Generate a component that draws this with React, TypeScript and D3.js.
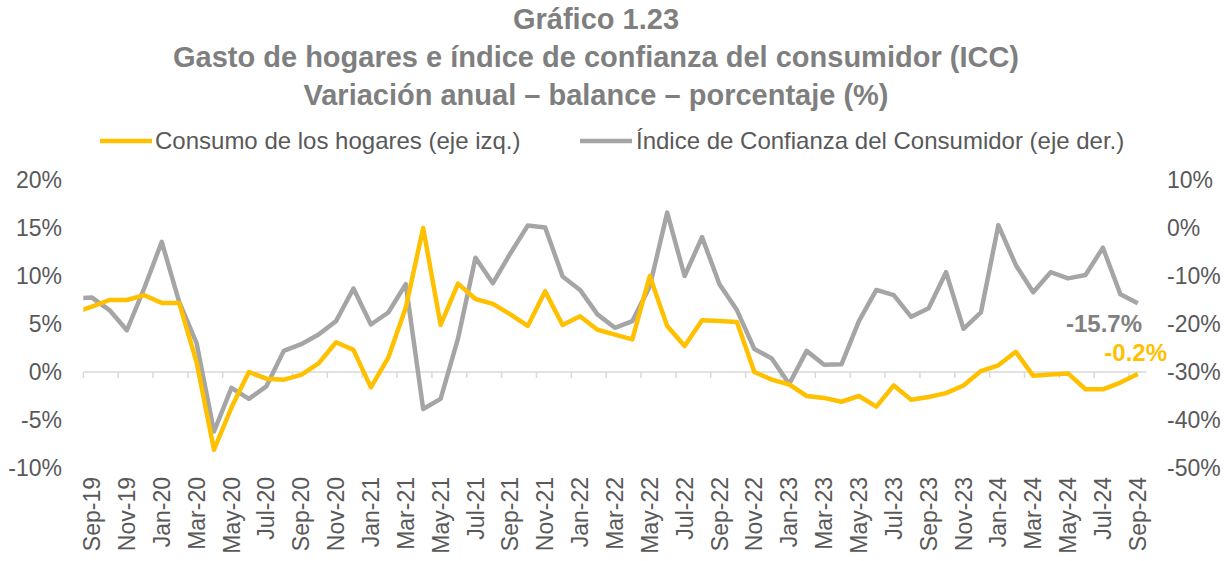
import React from 'react';
import * as d3 from 'd3';

const months = [
  'Sep-19', 'Oct-19', 'Nov-19', 'Dec-19', 'Jan-20', 'Feb-20', 'Mar-20', 'Apr-20', 'May-20', 'Jun-20',
  'Jul-20', 'Aug-20', 'Sep-20', 'Oct-20', 'Nov-20', 'Dec-20', 'Jan-21', 'Feb-21', 'Mar-21', 'Apr-21',
  'May-21', 'Jun-21', 'Jul-21', 'Aug-21', 'Sep-21', 'Oct-21', 'Nov-21', 'Dec-21', 'Jan-22', 'Feb-22',
  'Mar-22', 'Apr-22', 'May-22', 'Jun-22', 'Jul-22', 'Aug-22', 'Sep-22', 'Oct-22', 'Nov-22', 'Dec-22',
  'Jan-23', 'Feb-23', 'Mar-23', 'Apr-23', 'May-23', 'Jun-23', 'Jul-23', 'Aug-23', 'Sep-23', 'Oct-23',
  'Nov-23', 'Dec-23', 'Jan-24', 'Feb-24', 'Mar-24', 'Apr-24', 'May-24', 'Jun-24', 'Jul-24', 'Aug-24',
  'Sep-24',
];

// consumo de los hogares, variación anual (%), eje izquierdo
const consumo = [
  6.8, 7.5, 7.5, 8.0, 7.2, 7.2, 1.0, -8.1, -3.7, 0.0,
  -0.7, -0.8, -0.3, 0.9, 3.1, 2.3, -1.6, 1.5, 6.7, 15.0,
  4.9, 9.2, 7.6, 7.1, 6.0, 4.8, 8.4, 4.9, 5.8, 4.4,
  3.9, 3.4, 10.0, 4.8, 2.7, 5.4, 5.3, 5.2, 0.0, -0.8,
  -1.3, -2.5, -2.7, -3.1, -2.5, -3.6, -1.4, -2.9, -2.6, -2.2,
  -1.4, 0.1, 0.7, 2.1, -0.4, -0.25, -0.15, -1.8, -1.8, -1.1,
  -0.2,
];

// índice de confianza del consumidor, balance (%), eje derecho
const icc = [
  -14.5, -17.1, -21.3, -12.5, -2.9, -15.4, -24.0, -42.4, -33.3, -35.6,
  -33.0, -25.6, -24.2, -22.2, -19.4, -12.6, -20.1, -17.6, -11.7, -37.7,
  -35.6, -23.0, -6.2, -11.5, -5.3, 0.5, 0.1, -10.1, -12.9, -18.0,
  -20.8, -19.4, -12.2, 3.2, -10.0, -1.9, -11.7, -17.1, -25.2, -27.2,
  -32.5, -25.6, -28.5, -28.4, -19.4, -12.9, -14.0, -18.5, -16.7, -9.2,
  -21.0, -17.6, 0.6, -7.7, -13.4, -9.2, -10.5, -9.8, -4.1, -13.8,
  -15.7,
];

// previous month (Aug-19), only its cut segment shows at the left edge
const consumoPrev = 6.2;
const iccPrev = -14.7;

const leftTicks = [-10, -5, 0, 5, 10, 15, 20];
const rightTicks = [-50, -40, -30, -20, -10, 0, 10];

const titleLines = [
  'Gráfico 1.23',
  'Gasto de hogares e índice de confianza del consumidor (ICC)',
  'Variación anual – balance – porcentaje (%)',
];

const YELLOW = '#FFC000';
const GRAY = '#A5A5A5';
const TEXT = '#595959';
const FONT = '"Liberation Sans", Arial, sans-serif';

export default function App() {
  const W = 1231;
  const H = 561;
  const x0 = 83.3;
  const x1 = 1146.5;

  const x = d3.scaleBand<string>().domain(months).range([x0, x1]).padding(0);
  const step = x.step();
  const cx = (i: number) => (x(months[i]) as number) + step / 2;

  const yL = d3.scaleLinear().domain([-10, 20]).range([468, 180]);
  const yR = d3.scaleLinear().domain([-50, 10]).range([468, 180]);

  const mk = (vals: number[], prev: number, y: d3.ScaleLinear<number, number>) => {
    const pts: [number, number][] = [[cx(0) - step, y(prev)]];
    vals.forEach((v, i) => pts.push([cx(i), y(v)]));
    return d3.line()(pts) as string;
  };

  const last = months.length - 1;

  return (
    <svg
      width={W}
      height={H}
      style={{ position: 'absolute', left: 0, top: 0, background: '#fff' }}
      fontFamily={FONT}
    >
      <defs>
        <clipPath id="plot">
          <rect x={x0} y={150} width={x1 - x0} height={340} />
        </clipPath>
      </defs>

      {titleLines.map((t, i) => (
        <text key={t} x={596} y={29 + i * 38} textAnchor="middle" fontSize={29} fontWeight="bold" fill="#7F7F7F">
          {t}
        </text>
      ))}

      {/* legend */}
      <line x1={100} x2={152} y1={141} y2={141} stroke={YELLOW} strokeWidth={4.5} />
      <text x={155} y={149} fontSize={24} fill={TEXT}>Consumo de los hogares (eje izq.)</text>
      <line x1={580} x2={632} y1={141} y2={141} stroke={GRAY} strokeWidth={4.5} />
      <text x={636} y={149} fontSize={24} fill={TEXT}>Índice de Confianza del Consumidor (eje der.)</text>

      {/* y axes */}
      {leftTicks.map((t) => (
        <text key={'l' + t} x={62} y={yL(t)} dy="0.35em" textAnchor="end" fontSize={23} fill={TEXT}>
          {t}%
        </text>
      ))}
      {rightTicks.map((t) => (
        <text key={'r' + t} x={1167} y={yR(t)} dy="0.35em" textAnchor="start" fontSize={23} fill={TEXT}>
          {t}%
        </text>
      ))}

      {/* x axis at zero */}
      <line x1={x0} x2={x1} y1={yL(0)} y2={yL(0)} stroke="#D9D9D9" strokeWidth={1.5} />
      {months.map((m, i) =>
        i % 2 === 0 ? (
          <line key={'t' + m} x1={x(m)} x2={x(m)} y1={yL(0)} y2={yL(0) + 6} stroke="#D9D9D9" strokeWidth={1.5} />
        ) : null
      )}
      {months.map((m, i) =>
        i % 2 === 0 ? (
          <text
            key={'x' + m}
            transform={`translate(${cx(i)},477) rotate(-90)`}
            dy="0.35em"
            textAnchor="end"
            fontSize={23}
            fill={TEXT}
          >
            {m}
          </text>
        ) : null
      )}

      <g clipPath="url(#plot)" fill="none" strokeLinejoin="round">
        <path d={mk(icc, iccPrev, yR)} stroke={GRAY} strokeWidth={4.5} />
        <path d={mk(consumo, consumoPrev, yL)} stroke={YELLOW} strokeWidth={4.5} />
      </g>

      {/* last-value labels */}
      <text x={1142} y={yR(icc[last]) + 20} dy="0.35em" textAnchor="end" fontSize={24} fontWeight="bold" fill="#808080">
        {icc[last].toFixed(1)}%
      </text>
      <text x={1167} y={yL(consumo[last]) - 21} dy="0.35em" textAnchor="end" fontSize={24} fontWeight="bold" fill={YELLOW}>
        {consumo[last].toFixed(1)}%
      </text>
    </svg>
  );
}
